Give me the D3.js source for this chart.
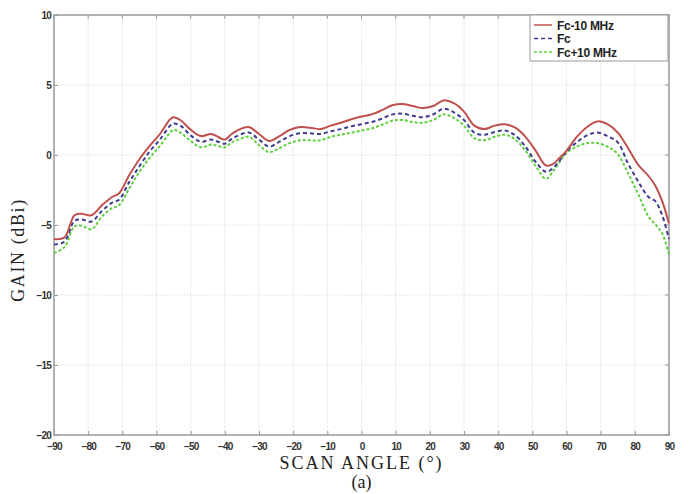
<!DOCTYPE html>
<html lang="en">
<head>
<meta charset="UTF-8">
<script src="https://d3js.org/d3.v7.min.js"></script>
<title>Gain vs scan angle</title>
<style>
  body { margin: 0; background: #fff; }
  .tick text { font-family: "Liberation Sans", Arial, sans-serif; font-weight: bold; font-size: 10px; fill: #333; letter-spacing: -0.8px; }
</style>
</head>
<body>
<div id="chart"></div>
<script>
// scan angles (deg) and gain (dBi)
const angles = [-90,-87,-84,-82,-79,-76,-73,-71,-68,-65,-62,-59,-56,-55,-53,-50,-47,-44,-42,-40,-38,-36,-33,-30,-27,-24,-21,-18,-15,-12,-9,-6,-3,0,3,6,9,12,15,18,21,24,27,30,33,36,39,42,45,48,51,54,56,58,60,63,66,69,72,75,78,81,84,86,88,90];
const fcMinus10 = [-6.0,-5.9,-4.3,-4.2,-4.3,-3.6,-3.0,-2.75,-1.45,-0.3,0.65,1.5,2.55,2.7,2.5,1.8,1.35,1.5,1.3,1.1,1.5,1.8,2.0,1.5,1.0,1.35,1.8,2.0,1.95,1.85,2.1,2.3,2.55,2.75,2.9,3.2,3.55,3.65,3.5,3.35,3.5,3.9,3.7,3.1,2.1,1.85,2.1,2.2,1.95,1.3,0.3,-0.75,-0.65,-0.2,0.3,1.3,2.0,2.4,2.2,1.6,0.5,-0.7,-1.5,-2.2,-3.3,-4.9];
const fc = [-6.4,-6.2,-4.7,-4.6,-4.75,-4.0,-3.4,-3.2,-1.95,-0.8,0.25,1.1,2.1,2.25,2.1,1.4,0.95,1.1,0.95,0.8,1.15,1.4,1.6,1.1,0.6,0.95,1.35,1.55,1.55,1.5,1.7,1.85,2.05,2.2,2.35,2.6,2.9,2.95,2.8,2.7,2.9,3.3,3.05,2.5,1.6,1.45,1.65,1.75,1.4,0.6,-0.5,-1.2,-0.95,-0.4,0.25,0.9,1.4,1.6,1.35,0.9,-0.6,-1.9,-3.0,-3.3,-4.3,-6.0];
const fcPlus10 = [-7.0,-6.6,-5.1,-5.05,-5.3,-4.4,-3.8,-3.6,-2.4,-1.2,-0.2,0.65,1.6,1.8,1.6,1.0,0.55,0.75,0.65,0.55,0.9,1.1,1.3,0.7,0.2,0.5,0.85,1.05,1.05,1.05,1.3,1.45,1.6,1.75,1.9,2.15,2.45,2.5,2.35,2.3,2.5,2.9,2.65,2.1,1.2,1.05,1.3,1.45,1.1,0.3,-0.8,-1.7,-1.2,-0.5,0.15,0.6,0.85,0.85,0.6,0.07,-1.3,-2.8,-4.4,-4.95,-5.6,-7.1];
const seriesNames = ["Fc-10 MHz", "Fc", "Fc+10 MHz"];
const xTicks = d3.range(-90, 91, 10);
const yTicks = [-20, -15, -10, -5, 0, 5, 10];

const width = 690, height = 494;
const margin = {top: 15, right: 21, bottom: 59, left: 54};

const svg = d3.select("#chart").append("svg")
  .attr("width", width).attr("height", height);

const x = d3.scaleLinear().domain([-90, 90]).range([margin.left, width - margin.right]);
const y = d3.scaleLinear().domain([-20, 10]).range([height - margin.bottom, margin.top]);

// grid
svg.append("g").selectAll("line").data(xTicks.slice(1, -1)).join("line")
  .attr("x1", d => x(d)).attr("x2", d => x(d))
  .attr("y1", y(10)).attr("y2", y(-20))
  .attr("stroke", "#e2e2e2").attr("stroke-dasharray", "1.5,1");
svg.append("g").selectAll("line").data(yTicks.slice(1, -1)).join("line")
  .attr("x1", x(-90)).attr("x2", x(90))
  .attr("y1", d => y(d)).attr("y2", d => y(d))
  .attr("stroke", "#e2e2e2").attr("stroke-dasharray", "1.5,1");

// frame
svg.append("rect")
  .attr("x", x(-90)).attr("y", y(10))
  .attr("width", x(90) - x(-90)).attr("height", y(-20) - y(10))
  .attr("fill", "none").attr("stroke", "#999").attr("stroke-width", 1.5);

// axes
const xAxis = svg.append("g")
  .attr("transform", `translate(0,${y(-20)})`)
  .call(d3.axisBottom(x).tickValues(xTicks).tickSize(-4).tickPadding(8));
const yAxis = svg.append("g")
  .attr("transform", `translate(${x(-90)},0)`)
  .call(d3.axisLeft(y).tickValues(yTicks).tickSize(-4).tickPadding(3));
[xAxis, yAxis].forEach(g => {
  g.select(".domain").remove();
  g.selectAll(".tick line").attr("stroke", "#999");
});
// top/right small ticks
svg.append("g").selectAll("line").data(xTicks).join("line")
  .attr("x1", d => x(d)).attr("x2", d => x(d))
  .attr("y1", y(10)).attr("y2", y(10) + 4).attr("stroke", "#999");
svg.append("g").selectAll("line").data(yTicks).join("line")
  .attr("x1", x(90)).attr("x2", x(90) - 4)
  .attr("y1", d => y(d)).attr("y2", d => y(d)).attr("stroke", "#999");

// curves
const line = d3.line()
  .x((d, i) => x(angles[i]))
  .y(d => y(d))
  .curve(d3.curveCatmullRom.alpha(0.5));

const styles = [
  {color: "#c0504d", dash: null, w: 2},
  {color: "#3d3d8f", dash: "4,3", w: 2},
  {color: "#5fcf3f", dash: "3,2", w: 2}
];
const data = [fcMinus10, fc, fcPlus10];

// draw green first so red sits on top
[2, 1, 0].forEach(k => {
  svg.append("path")
    .attr("d", line(data[k]))
    .attr("fill", "none")
    .attr("stroke", styles[k].color)
    .attr("stroke-width", styles[k].w)
    .attr("stroke-dasharray", styles[k].dash);
});

// legend
const lg = svg.append("g").attr("transform", "translate(530,15)");
lg.append("rect").attr("width", 138).attr("height", 46)
  .attr("fill", "#fff").attr("stroke", "#999");
seriesNames.forEach((name, i) => {
  const yy = 10 + i * 13.5;
  lg.append("line")
    .attr("x1", 4).attr("x2", 22).attr("y1", yy).attr("y2", yy)
    .attr("stroke", styles[i].color).attr("stroke-width", 1.5)
    .attr("stroke-dasharray", styles[i].dash);
  lg.append("text")
    .attr("x", 27).attr("y", yy + 4.5)
    .attr("font-family", "Liberation Sans, Arial, sans-serif")
    .attr("font-weight", "bold").attr("font-size", 12).attr("fill", "#222")
    .attr("letter-spacing", "-0.3px")
    .text(name);
});

// axis titles
svg.append("text")
  .attr("transform", `translate(24,${(y(10) + y(-20)) / 2 + 25}) rotate(-90)`)
  .attr("text-anchor", "middle")
  .attr("font-family", "Liberation Serif, Times New Roman, serif")
  .attr("font-size", 18).attr("fill", "#222")
  .attr("letter-spacing", "1.6px")
  .text("GAIN (dBi)");
svg.append("text")
  .attr("x", x(0)).attr("y", 469)
  .attr("text-anchor", "middle")
  .attr("font-family", "Liberation Serif, Times New Roman, serif")
  .attr("font-size", 18).attr("fill", "#222")
  .attr("letter-spacing", "2px")
  .text("SCAN ANGLE (°)");
svg.append("text")
  .attr("x", x(0)).attr("y", 488)
  .attr("text-anchor", "middle")
  .attr("font-family", "Liberation Serif, Times New Roman, serif")
  .attr("font-size", 18).attr("fill", "#222")
  .text("(a)");
</script>
</body>
</html>
